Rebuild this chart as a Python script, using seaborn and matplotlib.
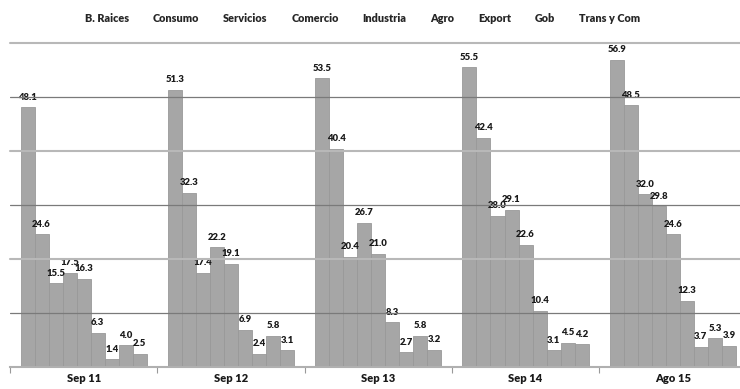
import matplotlib
matplotlib.use("Agg")
import matplotlib.pyplot as plt
import seaborn as sns
import pandas as pd
from matplotlib.patches import Patch

periods = ["Sep 11", "Sep 12", "Sep 13", "Sep 14", "Ago 15"]
sectors = ["B. Raices", "Consumo", "Servicios", "Comercio", "Industria",
           "Agro", "Export", "Gob", "Trans y Com"]
values = {
    "B. Raices":   [48.1, 51.3, 53.5, 55.5, 56.9],
    "Consumo":     [24.6, 32.3, 40.4, 42.4, 48.5],
    "Servicios":   [15.5, 17.4, 20.4, 28.0, 32.0],
    "Comercio":    [17.5, 22.2, 26.7, 29.1, 29.8],
    "Industria":   [16.3, 19.1, 21.0, 22.6, 24.6],
    "Agro":        [6.3, 6.9, 8.3, 10.4, 12.3],
    "Export":      [1.4, 2.4, 2.7, 3.1, 3.7],
    "Gob":         [4.0, 5.8, 5.8, 4.5, 5.3],
    "Trans y Com": [2.5, 3.1, 3.2, 4.2, 3.9],
}

rows = []
for s in sectors:
    for p, v in zip(periods, values[s]):
        rows.append({"period": p, "sector": s, "value": v})
df = pd.DataFrame(rows)

sns.set_theme(style="white")
plt.rcParams["font.family"] = ["Lato", "DejaVu Sans"]

fig = plt.figure(figsize=(7.4, 3.89), dpi=100)
ax = fig.add_axes([10 / 740, 22 / 389, 736.5 / 740, 324 / 389])

sns.barplot(data=df, x="period", y="value", hue="sector", order=periods,
            hue_order=sectors, palette=["#a6a6a6"] * len(sectors),
            width=0.857, gap=0, dodge=True, ax=ax, legend=False,
            edgecolor="#999999", linewidth=0.6, errorbar=None, zorder=2)

for cont in ax.containers:
    ax.bar_label(cont, fmt="%.1f", padding=4, fontsize=6.8, fontweight="heavy",
                 color="#1a1a1a")

ax.set_ylim(0, 60)
ax.set_xlim(-0.5, 4.5)
ax.set_yticks([])
ax.set_xlabel("")
ax.set_ylabel("")
for sp in ["left", "right", "top"]:
    ax.spines[sp].set_visible(False)
ax.spines["bottom"].set_color("#b0b0b0")
ax.spines["bottom"].set_linewidth(1.5)
ax.spines["bottom"].set_zorder(5)

for y in [20, 40, 60]:
    ax.axhline(y, color="#b8b8b8", lw=1.5, zorder=4, clip_on=False)
for y in [10, 30, 50]:
    ax.axhline(y, color="#7a7a7a", lw=0.9, zorder=4)

ax.set_xticks(range(len(periods)))
ax.set_xticklabels(periods, fontsize=8, fontweight="heavy", color="#1a1a1a")
ax.tick_params(axis="x", which="major", length=0, pad=4)
ax.set_xticks([i - 0.5 for i in range(len(periods) + 1)], minor=True)
ax.tick_params(axis="x", which="minor", length=4, color="#999999",
               width=0.8, direction="out", bottom=True)

handles = [Patch(facecolor="none", edgecolor="none") for _ in sectors]
fig.legend(handles, sectors, loc="center", bbox_to_anchor=(0.49, 0.953),
           ncol=len(sectors), frameon=False, handlelength=0,
           handletextpad=0, columnspacing=2.2,
           prop={"family": ["Lato", "DejaVu Sans"], "weight": "heavy", "size": 7.8})

fig.savefig("out.png", dpi=100)
